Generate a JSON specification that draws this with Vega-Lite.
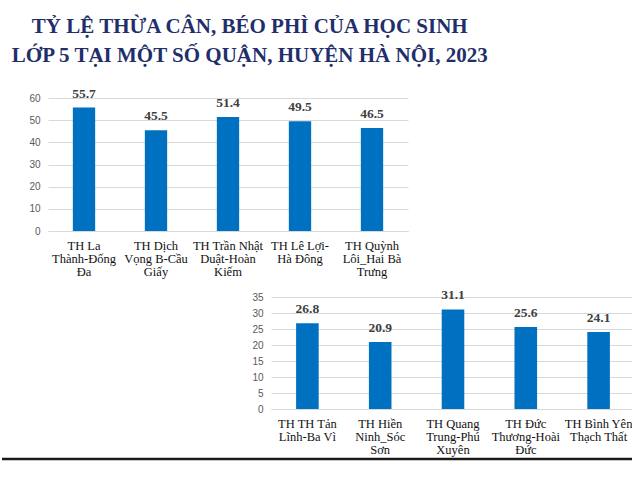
{
  "$schema": "https://vega.github.io/schema/vega-lite/v6.json",
  "padding": {"top": 15, "left": 0, "right": 0, "bottom": 0},
  "background": "white",
  "title": {
    "text": ["TỶ LỆ THỪA CÂN, BÉO PHÌ CỦA HỌC SINH", "LỚP 5 TẠI MỘT SỐ QUẬN, HUYỆN HÀ NỘI, 2023"],
    "anchor": "start",
    "align": "center",
    "dx": 249,
    "font": "Liberation Serif",
    "fontSize": 21,
    "fontWeight": "bold",
    "color": "#1f2f6b",
    "lineHeight": 29,
    "offset": 21
  },
  "datasets": {
    "a": [
      {"school": "TH La|Thành-Đống|Đa", "value": 55.7},
      {"school": "TH Dịch|Vọng B-Cầu|Giấy", "value": 45.5},
      {"school": "TH Trần Nhật|Duật-Hoàn|Kiếm", "value": 51.4},
      {"school": "TH Lê Lợi-|Hà Đông", "value": 49.5},
      {"school": "TH Quỳnh|Lôi_Hai Bà|Trưng", "value": 46.5}
    ],
    "b": [
      {"school": "TH TH Tản|Lĩnh-Ba Vì", "value": 26.8},
      {"school": "TH Hiền|Ninh_Sóc|Sơn", "value": 20.9},
      {"school": "TH Quang|Trung-Phú|Xuyên", "value": 31.1},
      {"school": "TH Đức|Thương-Hoài|Đức", "value": 25.6},
      {"school": "TH Bình Yên|Thạch Thất", "value": 24.1}
    ]
  },
  "spacing": 0,
  "vconcat": [
    {
      "spacing": 9,
      "vconcat": [
        {
          "spacing": 0,
          "hconcat": [
            {"width": 26, "height": 133, "data": {"values": [{}]}, "mark": {"type": "point", "opacity": 0}},
            {
              "width": 360,
              "height": 133,
              "data": {"name": "a"},
              "encoding": {
                "x": {
                  "field": "school", "type": "nominal", "sort": null,
                  "scale": {"paddingInner": 0.69},
                  "axis": {"title": null, "labelAngle": 0, "labelExpr": "split(datum.label, '|')", "labelFont": "Liberation Serif", "labelFontSize": 12.5, "labelColor": "#111111", "labelLineHeight": 13.3, "labelPadding": 8, "ticks": false, "domainColor": "#d9d9d9", "labelLimit": 0}
                },
                "y": {
                  "field": "value", "type": "quantitative",
                  "scale": {"domain": [0, 60]},
                  "axis": {"title": null, "values": [0, 10, 20, 30, 40, 50, 60], "labelFont": "Liberation Sans", "labelFontSize": 10, "labelColor": "#595959", "labelPadding": 8, "ticks": false, "domain": false, "gridColor": "#d9d9d9"}
                }
              },
              "layer": [
                {"mark": {"type": "bar", "color": "#0070c0"}},
                {"mark": {"type": "text", "baseline": "bottom", "dy": -7, "font": "Liberation Serif", "fontWeight": "bold", "fontSize": 13.5, "color": "#404040"},
                 "encoding": {"text": {"field": "value", "type": "quantitative", "format": ".1f"}}}
              ]
            }
          ]
        },
        {
          "spacing": 0,
          "hconcat": [
            {"width": 249, "height": 112, "data": {"values": [{}]}, "mark": {"type": "point", "opacity": 0}},
            {
              "width": 364,
              "height": 112,
              "data": {"name": "b"},
              "encoding": {
                "x": {
                  "field": "school", "type": "nominal", "sort": null,
                  "scale": {"paddingInner": 0.69},
                  "axis": {"title": null, "labelAngle": 0, "labelExpr": "split(datum.label, '|')", "labelFont": "Liberation Serif", "labelFontSize": 12.5, "labelColor": "#111111", "labelLineHeight": 13.3, "labelPadding": 8, "ticks": false, "domainColor": "#d9d9d9", "labelLimit": 0}
                },
                "y": {
                  "field": "value", "type": "quantitative",
                  "scale": {"domain": [0, 35]},
                  "axis": {"title": null, "values": [0, 5, 10, 15, 20, 25, 30, 35], "labelFont": "Liberation Sans", "labelFontSize": 10, "labelColor": "#595959", "labelPadding": 8, "ticks": false, "domain": false, "gridColor": "#d9d9d9"}
                }
              },
              "layer": [
                {"mark": {"type": "bar", "color": "#0070c0"}},
                {"mark": {"type": "text", "baseline": "bottom", "dy": -7, "font": "Liberation Serif", "fontWeight": "bold", "fontSize": 13.5, "color": "#404040"},
                 "encoding": {"text": {"field": "value", "type": "quantitative", "format": ".1f"}}}
              ]
            }
          ]
        }
      ]
    },
    {
      "width": 632,
      "height": 2,
      "data": {"values": [{}]},
      "mark": {"type": "rule", "color": "#1a1a1a", "strokeWidth": 2.5},
      "encoding": {"y": {"datum": 0, "type": "quantitative", "scale": {"domain": [0, 1]}, "axis": null}}
    }
  ],
  "config": {"view": {"stroke": null}}
}
